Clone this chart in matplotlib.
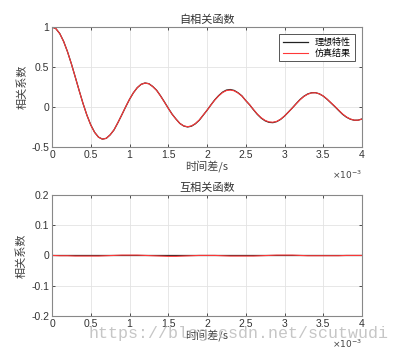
import numpy as np
import matplotlib
matplotlib.use("Agg")
import matplotlib.pyplot as plt
from matplotlib.ticker import FuncFormatter, MultipleLocator

plt.rcParams['font.family'] = ['Liberation Sans', 'Noto Sans CJK SC', 'DejaVu Sans']
plt.rcParams['axes.unicode_minus'] = False

# time lag samples (s)
tau = np.linspace(0, 4e-3, 81)

# autocorrelation
auto_ideal = [1.000, 0.979, 0.918, 0.820, 0.691, 0.540, 0.375, 0.207, 0.045, -0.101,
              -0.224, -0.317, -0.377, -0.402, -0.392, -0.349, -0.287, -0.197, -0.100, 0.000,
              0.095, 0.177, 0.241, 0.283, 0.300, 0.291, 0.256, 0.209, 0.140, 0.064,
              -0.015, -0.090, -0.151, -0.206, -0.238, -0.250, -0.240, -0.210, -0.166, -0.104,
              -0.042, 0.025, 0.089, 0.142, 0.185, 0.211, 0.218, 0.207, 0.178, 0.139,
              0.080, 0.027, -0.035, -0.093, -0.140, -0.173, -0.192, -0.196, -0.183, -0.155,
              -0.114, -0.064, -0.013, 0.041, 0.093, 0.134, 0.163, 0.178, 0.179, 0.164,
              0.136, 0.096, 0.050, 0.004, -0.045, -0.092, -0.128, -0.153, -0.166, -0.165,
              -0.150]
auto_sim = [1.000, 0.979, 0.917, 0.819, 0.690, 0.539, 0.374, 0.206, 0.044, -0.102,
            -0.225, -0.318, -0.378, -0.402, -0.392, -0.348, -0.286, -0.196, -0.099, 0.001,
            0.096, 0.177, 0.241, 0.283, 0.299, 0.290, 0.255, 0.207, 0.138, 0.062,
            -0.017, -0.092, -0.152, -0.206, -0.237, -0.247, -0.237, -0.207, -0.163, -0.102,
            -0.041, 0.024, 0.086, 0.138, 0.180, 0.205, 0.212, 0.202, 0.175, 0.137,
            0.080, 0.028, -0.032, -0.089, -0.135, -0.168, -0.187, -0.191, -0.180, -0.153,
            -0.113, -0.064, -0.014, 0.039, 0.090, 0.131, 0.160, 0.176, 0.178, 0.164,
            0.137, 0.098, 0.053, 0.008, -0.041, -0.088, -0.125, -0.151, -0.165, -0.165,
            -0.151]

# cross-correlation
tau_cross = np.linspace(0, 4e-3, 41)
cross_ideal = [0.0] * len(tau_cross)
cross_sim = [0.000, -0.001, -0.001, -0.002, -0.002, -0.002, -0.002, -0.001, 0.000, 0.001,
             0.001, 0.001, 0.000, -0.001, -0.002, -0.003, -0.003, -0.002, -0.001, 0.000,
             0.000, 0.000, -0.001, -0.002, -0.002, -0.002, -0.002, -0.001, 0.000, 0.001,
             0.001, 0.001, 0.000, -0.001, -0.001, -0.001, -0.001, -0.001, 0.000, 0.000,
             0.000]

CJK = ['Noto Sans CJK SC', 'DejaVu Sans']


def style_axes(ax, ylim, ystep):
    ax.set_xlim(0, 4e-3)
    ax.set_ylim(*ylim)
    ax.xaxis.set_major_locator(MultipleLocator(0.5e-3))
    ax.yaxis.set_major_locator(MultipleLocator(ystep))
    ax.xaxis.set_major_formatter(FuncFormatter(lambda v, p: f"{v * 1e3:g}"))
    ax.yaxis.set_major_formatter(FuncFormatter(lambda v, p: f"{v:g}"))
    ax.grid(True, color="#e3e3e3", linewidth=0.6)
    ax.set_axisbelow(True)
    ax.tick_params(direction="in", length=2.5, width=0.6, labelsize=7.5,
                   colors="#333333", top=True, right=True, pad=2)
    for s in ax.spines.values():
        s.set_color("#888888")
        s.set_linewidth(0.8)
    ax.set_xlabel("时间差/s", family=CJK, fontsize=8, color="#444444", labelpad=0)
    ax.set_ylabel("相关系数", family=CJK, fontsize=8, color="#444444", labelpad=3)
    ax.text(1.0, -0.18, r"$\times10^{-3}$", transform=ax.transAxes,
            ha="right", va="top", fontsize=6.5, color="#444444")


fig = plt.figure(figsize=(4.0, 3.55), dpi=100)
ax1 = fig.add_axes([0.13, 0.586, 0.775, 0.338])
ax2 = fig.add_axes([0.13, 0.110, 0.775, 0.341])

ax1.plot(tau, auto_ideal, color="#222222", linewidth=0.9, label="理想特性")
ax1.plot(tau, auto_sim, color="#ff3838", linewidth=0.8, label="仿真结果")
style_axes(ax1, (-0.5, 1), 0.5)
ax1.set_title("自相关函数", family=CJK, fontsize=8, color="#333333", pad=3)
leg = ax1.legend(loc="upper right", prop={'family': CJK, 'size': 6.5},
                 fancybox=False, edgecolor="#555555", framealpha=1,
                 handlelength=2.8, borderpad=0.4, labelspacing=0.2,
                 borderaxespad=0.8)
leg.get_frame().set_linewidth(0.7)

ax2.plot(tau_cross, cross_ideal, color="#222222", linewidth=0.9)
ax2.plot(tau_cross, cross_sim, color="#ff3838", linewidth=0.8)
style_axes(ax2, (-0.2, 0.2), 0.1)
ax2.set_title("互相关函数", family=CJK, fontsize=8, color="#333333", pad=3)

# watermark
fig.text(0.97, 0.06, "https://blog.csdn.net/scutwudi", ha="right", va="center",
         family="Liberation Mono", fontsize=12, color="#b8b8b8", alpha=0.8)

fig.savefig("out.png", dpi=100)
